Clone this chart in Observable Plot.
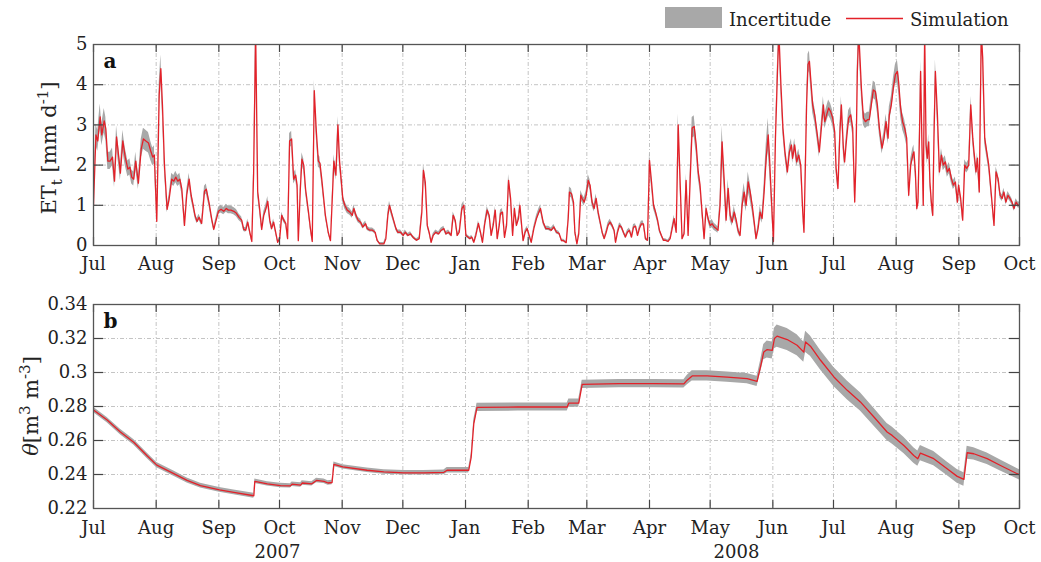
<!DOCTYPE html>
<html><head><meta charset="utf-8">
<script src="https://cdn.jsdelivr.net/npm/d3@7"></script>
<script src="https://cdn.jsdelivr.net/npm/@observablehq/plot@0.6"></script>
<style>
body{margin:0;background:#fff;}
#wrap{position:relative;width:1041px;height:562px;font-family:"DejaVu Serif",serif;overflow:hidden;}
#a{position:absolute;left:0;top:0;}
#b{position:absolute;left:0;top:285px;}
#legend{position:absolute;left:0;top:0;}
</style></head>
<body><div id="wrap"><div id="a"></div><div id="b"></div><svg id="legend" width="1041" height="40"></svg></div>
<script>
// ---- data: ET_t (mm/d), day offsets from 2007-07-01 ----
const etDay = [0,1.2,2.1,3.3,4.1,5.3,6.1,7.1,8.2,9.4,10.4,11.4,12.4,13.3,14.5,15.7,17,18,18.9,19.9,20.9,22.2,23.6,24.7,25.9,27.2,28.3,29.3,30.1,31.3,32.5,33.3,34.1,35.1,36.4,37.4,38.7,39.7,40.7,41.7,42.7,43.7,45,46.1,47.3,48.3,49.3,50.2,51.2,52.2,53.5,54.9,55.8,57.2,58.5,59.5,60.5,61.8,63.1,64.4,65.7,66.7,68,69.4,70.7,72,73.3,74.3,75.3,76.3,77.3,78.3,79.2,80.2,81.2,82.2,83.2,84.2,85.2,86.2,87.2,88.1,89.1,90.1,91.1,92.1,93.1,94.1,95.1,96,97,98,99,100,100.7,101.3,102.3,103.1,104,104.9,106.3,107.3,108.2,109.2,110.2,111.2,112,112.9,113.9,114.7,116.1,117.2,118.9,119.9,120.9,121.7,122.5,123.3,124.3,125.5,126.8,128,128.8,129.8,130.9,132.1,133.2,134.6,135.4,136.7,138,139.3,140.3,141.6,143.6,144.6,145.6,146.4,147.3,148.2,149.6,150.5,151.9,153.2,154.2,155.5,156.8,158.1,159.8,161.1,162.4,163.2,164.1,165.1,166,167,168,169.3,170.7,172,173.3,174.3,175.6,176.9,177.9,178.9,179.9,180.9,182.2,183.2,184.2,185.2,186.2,187.1,188.1,189.1,190.4,191.4,192.4,193.4,194.7,195.7,196.7,197.7,198.7,199.7,200.7,201.3,202.3,203.3,204.3,205.3,206.3,207.3,208.2,209.2,210.2,210.9,211.9,212.5,213.5,214.5,215.5,216.5,217.8,219.1,220.3,221.1,222.4,223.7,225.1,226.4,227.7,229,230.3,231.5,232.5,233.8,234.8,235.4,236.4,237.4,238.1,239.1,240,241,241.7,242.7,243.7,244.7,245.6,246.6,247.6,248.6,249.6,250.6,251.6,252.6,253.6,254.5,255.5,256.5,257.5,258.2,259.2,260.2,261.1,262.1,263.1,264.1,265.1,266.1,267.1,268.1,269.1,270,271,272,273,274,275,276,277,278,279,279.9,280.9,281.9,282.9,284.2,285.2,286.2,287.2,288.2,289.2,290.2,291.1,292.1,293.1,294.1,295.1,296.1,297.1,298.1,299.1,300,301,302,303,304,305,306,307,308,308.9,309.9,310.9,311.9,312.9,313.9,314.9,315.9,316.9,317.9,318.8,319.8,320.8,321.8,322.8,323.8,324.8,325.8,326.8,327.7,328.7,329.7,330.7,331.7,332.7,333.7,334.3,335.3,336.3,337.3,338.3,339,340,341,342,343.2,344.2,345.2,345.8,346.8,347.8,348.8,349.8,350.8,351.4,352.1,352.7,353.4,354.1,354.7,355.7,356.7,358,359,360,361,361.7,362.6,363.6,364.6,365.6,366.6,367.3,368.2,369.2,369.9,370.9,371.5,372.5,373.5,374.5,375.5,376.5,377.1,377.8,378.5,379.1,379.8,380.8,381.8,382.8,383.7,384.7,385.7,386.7,387.7,388.7,390,391,392,393,393.6,394.6,395.6,396.6,397.6,398.2,399.2,400.2,401.2,402.2,403.2,404.2,405.2,405.8,406.5,407.2,407.8,408.5,409.1,409.8,410.4,411.1,411.8,412.4,413.1,413.7,414.4,415.1,415.7,416.4,417.4,418.4,419.4,420.3,421.3,422.3,423.3,424.3,425.3,426.3,427.3,427.9,428.9,429.9,430.9,431.9,432.9,433.9,434.9,435.5,436.5,437.2,438.1,439.1,439.8,440.8,441.8,442.8,444.1,445.4,446.4,447.4,448.4,449.4,450.3,451.3,452.3,453.3,454.3,455.3,456.3,457.3,458];
const etValue = [1.0,2.75,2.6,3.2,2.75,3.1,2.9,2.1,2.1,2.2,1.6,2.7,2.25,1.8,2.6,2.2,1.9,1.95,1.7,1.65,2.1,1.55,2.4,2.65,2.6,2.55,2.35,2.2,2.25,0.6,3.75,4.4,3.5,2.0,0.9,1.15,1.65,1.6,1.7,1.6,1.65,1.4,0.5,1.25,1.65,1.25,1.0,0.75,0.6,0.7,0.55,1.35,1.4,1.05,0.65,0.4,0.6,0.85,0.9,0.85,0.92,0.88,0.88,0.85,0.8,0.7,0.63,0.4,0.38,0.58,0.33,0.1,1.8,5.3,1.35,0.9,0.4,0.75,0.9,1.1,0.63,0.42,0.58,0.33,0.08,0.17,0.75,0.63,0.55,0.17,2.6,2.65,1.65,1.75,1.5,0.12,1.4,2.15,2.0,1.4,0.85,0.42,0.1,3.85,2.85,2.1,2.05,1.65,1.15,0.75,0.33,0.12,2.1,1.75,3.0,2.1,1.65,1.17,1.0,0.88,0.83,0.75,0.92,0.75,0.63,0.58,0.46,0.54,0.42,0.38,0.38,0.33,0.13,0.04,0.04,0.17,0.75,1.0,0.83,0.67,0.42,0.33,0.33,0.25,0.33,0.25,0.29,0.2,0.13,0.17,0.83,1.87,1.58,0.5,0.33,0.08,0.25,0.33,0.29,0.38,0.42,0.29,0.33,0.25,0.75,0.63,0.25,0.33,0.92,1.0,0.25,0.21,0.17,0.21,0.08,0.25,0.55,0.33,0.08,0.5,0.88,0.75,0.25,0.5,0.88,0.17,0.5,0.8,0.83,0.2,0.5,1.62,1.17,0.25,0.92,0.5,0.67,1.0,0.42,0.12,0.33,0.42,0.25,0.08,0.42,0.67,0.83,0.92,0.58,0.42,0.42,0.38,0.46,0.33,0.3,0.12,0.12,0.07,0.67,1.33,1.29,1.08,0.33,0.04,0.29,1.25,1.17,1.08,1.25,1.62,1.5,1.08,0.92,1.17,0.83,0.58,0.33,0.17,0.33,0.5,0.58,0.5,0.38,0.08,0.33,0.5,0.46,0.33,0.21,0.33,0.38,0.21,0.46,0.48,0.25,0.42,0.54,0.54,0.17,0.13,2.12,1.58,1.0,0.83,0.63,0.38,0.25,0.13,0.13,0.1,0.17,0.42,0.67,0.33,3.0,1.5,0.17,0.29,1.62,0.25,1.62,2.92,2.96,2.5,1.83,1.5,0.83,0.17,0.92,0.67,0.5,0.54,0.46,0.42,0.38,1.0,2.58,1.67,0.63,1.42,0.75,0.58,0.83,0.63,0.38,0.25,1.0,1.33,1.0,1.58,1.33,1.0,0.58,0.17,0.42,0.83,0.67,1.33,2.17,2.75,2.25,1.17,0.1,2.67,4.33,5.3,4.0,2.92,2.33,1.83,2.33,2.5,2.17,2.5,2.08,2.25,2.0,0.83,0.33,2.0,3.5,4.5,4.58,4.17,3.5,3.25,2.75,2.33,2.92,3.5,3.08,3.25,3.42,3.33,3.17,2.83,1.92,1.42,2.83,3.5,2.42,2.08,2.67,3.17,3.25,2.92,1.08,2.08,4.33,5.3,4.67,3.92,3.17,3.08,3.13,3.13,3.5,3.87,3.83,3.5,2.92,2.42,2.67,3.08,2.67,3.25,3.5,3.92,4.25,4.33,4.08,3.42,3.08,2.92,2.67,1.25,2.0,2.25,2.33,1.83,0.92,1.08,2.67,4.33,2.42,1.0,5.3,2.5,2.17,2.58,1.58,1.08,0.75,2.67,4.33,3.25,1.83,2.25,2.0,2.08,1.83,1.92,1.67,1.5,1.58,1.08,1.5,1.17,0.63,2.0,1.92,2.0,3.5,2.67,2.33,1.83,2.17,1.33,5.3,4.67,2.67,2.33,2.0,1.25,0.5,1.83,1.67,1.25,1.17,1.33,1.08,1.25,1.17,1.08,0.92,1.08,1.0,1.0];
// relative half-width of the uncertainty band per month (Jul 2007 .. Oct 2008)
const etSpread = [0.09,0.07,0.08,0.06,0.07,0.07,0.07,0.07,0.07,0.08,0.14,0.05,0.05,0.06,0.05,0.05];

// ---- data: soil moisture theta (m3/m3) ----
const thetaDay = [0,6.75,13.3,19.9,26.5,31.3,39.7,46.3,52.9,62.3,69.4,79.3,79.8,86,92.5,97.4,98.2,102.5,103.2,108,110.3,114,116,118,118.9,123.3,135.3,143.6,153.5,163.4,173.3,174.9,185.6,186.8,188.1,189.7,210,234.3,235.1,240,241.7,260,277.1,292,293.6,296.1,303.5,313.4,323.3,328.2,329.9,331.5,333.2,335.7,336.8,338.1,343.1,348,351.3,352.2,354.6,359.6,366.2,372.8,379.3,386,392.5,395,400.8,405.7,407.7,409,415.6,422.2,427.2,430.5,432.1,435.4,442,448.6,458];
const thetaValue = [0.278,0.272,0.265,0.259,0.251,0.2455,0.2405,0.2365,0.2335,0.231,0.2295,0.2275,0.236,0.2345,0.2335,0.2333,0.2343,0.2338,0.235,0.2345,0.2365,0.236,0.235,0.2353,0.246,0.2445,0.2425,0.2415,0.241,0.241,0.2413,0.2425,0.2425,0.25,0.27,0.2795,0.2797,0.2797,0.282,0.282,0.293,0.2935,0.2935,0.2933,0.2955,0.298,0.298,0.2973,0.2964,0.2948,0.3033,0.312,0.3135,0.313,0.32,0.3214,0.3194,0.316,0.312,0.318,0.3155,0.3072,0.2974,0.2895,0.2827,0.2738,0.265,0.263,0.2571,0.2512,0.2493,0.2526,0.2493,0.2434,0.2389,0.2371,0.2528,0.2522,0.2493,0.2453,0.2398];
const thetaSpread = [0.0016,0.0016,0.0016,0.0016,0.0016,0.0016,0.0015,0.0015,0.0014,0.0014,0.0014,0.0014,0.0013,0.0013,0.0013,0.0013,0.0013,0.0013,0.0013,0.0013,0.0013,0.0013,0.0013,0.0013,0.0013,0.0013,0.0013,0.0013,0.0013,0.0013,0.0014,0.0016,0.0016,0.002,0.0023,0.0024,0.0024,0.0024,0.0024,0.0024,0.0024,0.0024,0.0024,0.0024,0.0028,0.003,0.003,0.003,0.003,0.003,0.0035,0.0045,0.005,0.005,0.006,0.0065,0.0065,0.0062,0.006,0.0062,0.006,0.0058,0.0056,0.0055,0.0054,0.0052,0.005,0.005,0.0048,0.0046,0.0045,0.0045,0.0042,0.004,0.004,0.004,0.0038,0.0036,0.0034,0.0032,0.003];

const monthLabel = d3.utcFormat("%b");
const yearLabels = ["2007","2008"];
const yearDay = [91, 318];
const etTicks = [0,1,2,3,4,5];
const thetaTicks = [0.22,0.24,0.26,0.28,0.30,0.32,0.34];

// ---- helpers ----
const start = new Date(Date.UTC(2007,6,1));
const end = new Date(Date.UTC(2008,9,1));
const toDate = d => new Date(start.getTime() + d*864e5);
const monthTicks = d3.utcMonth.range(start, new Date(Date.UTC(2008,9,2)));
const RED = "#e32129", GREY = "#a8a8a8", FONT = "DejaVu Serif";
const GRID = {stroke: "#bdbdbd", strokeWidth: 0.9, strokeDasharray: "4,2,1,2"};

const et = etDay.map((d,i)=>{
  const date = toDate(d), v = etValue[i];
  const s = etSpread[Math.min(etSpread.length-1, d3.utcMonth.count(start,date))];
  return {date, v, lo: Math.max(0, v*(1-s)-0.02), hi: v*(1+s)+0.03};
});
const th = thetaDay.map((d,i)=>({date: toDate(d), v: thetaValue[i], lo: thetaValue[i]-thetaSpread[i], hi: thetaValue[i]+thetaSpread[i]}));

function panel({data, yDomain, yTicks, yFmt, height, mTop, mBottom, letter, pad, extra=[]}) {
  const plotH = height - mTop - mBottom;
  const ty = (yDomain[1]-yDomain[0]) * 8/plotH;       // 8px inward x-ticks
  const tx = 458 * 10/926;                             // 10px inward y-ticks (days)
  const inner = yTicks.slice(1,-1);
  return Plot.plot({
    width: 1041, height, marginTop: mTop, marginBottom: mBottom, marginLeft: 93, marginRight: 22,
    style: {fontFamily: FONT, fontSize: "18px", color: "#222", background: "transparent", overflow: "visible"},
    x: {type: "utc", domain: [start, end], ticks: monthTicks, tickFormat: monthLabel, tickSize: 0, tickPadding: pad, label: null},
    y: {domain: yDomain, ticks: yTicks, tickFormat: yFmt, tickSize: 0, tickPadding: 6, label: null},
    marks: [
      Plot.ruleX(monthTicks.slice(1,-1), GRID),
      Plot.ruleY(inner, GRID),
      Plot.areaY(data, {x: "date", y1: "lo", y2: "hi", fill: GREY, clip: true}),
      Plot.lineY(data, {x: "date", y: "v", stroke: RED, strokeWidth: 1.3, clip: true}),
      Plot.ruleX(monthTicks, {y1: yDomain[0], y2: yDomain[0]+ty, stroke: "#444", strokeWidth: 1.2}),
      Plot.ruleX(monthTicks, {y1: yDomain[1], y2: yDomain[1]-ty, stroke: "#444", strokeWidth: 1.2}),
      Plot.ruleY(inner, {x1: start, x2: toDate(tx), stroke: "#444", strokeWidth: 1.2}),
      Plot.ruleY(inner, {x1: toDate(458-tx), x2: end, stroke: "#444", strokeWidth: 1.2}),
      Plot.frame({stroke: "#555", strokeWidth: 1.3}),
      Plot.text([letter], {frameAnchor: "top-left", dx: 10, dy: 17, lineAnchor: "middle", fontWeight: "bold", fontSize: 20, fill: "#111"}),
      ...extra
    ]
  });
}

const plotA = panel({data: et, yDomain: [0,5], yTicks: etTicks, yFmt: d3.format("d"), height: 285, mTop: 44, mBottom: 40, letter: "a", pad: 12});
const years = yearLabels.map((t,i)=>({t, date: toDate(yearDay[i])}));
const plotB = panel({data: th, yDomain: [0.22,0.34], yTicks: thetaTicks, yFmt: d3.format(".2~f"), height: 277, mTop: 19, mBottom: 54, letter: "b", pad: 13,
  extra: [Plot.text(years, {x: "date", y: () => 0.22, text: "t", dy: 44, fontSize: 18, fill: "#222"})]});

document.getElementById("a").appendChild(plotA);
document.getElementById("b").appendChild(plotB);

function yLabel(svg, x, y, parts) {
  const t = d3.select(svg).append("text")
    .attr("transform", `translate(${x},${y}) rotate(-90)`)
    .attr("text-anchor", "middle").attr("font-size", 21).attr("fill", "#222");
  parts.forEach(p => {
    const s = t.append("tspan").text(p.t);
    if (p.dy) s.attr("dy", p.dy);
    if (p.fs) s.attr("font-size", p.fs);
    if (p.it) s.attr("font-style", "italic");
  });
}
yLabel(plotA, 56, 148, [{t:"ET"},{t:"t",dy:6,fs:15},{t:" [mm d",dy:-6},{t:"-1",dy:-8,fs:15},{t:"]",dy:8}]);
yLabel(plotB, 38, 121, [{t:"θ",it:true},{t:"[m"},{t:"3",dy:-8,fs:15},{t:" m",dy:8},{t:"-3",dy:-8,fs:15},{t:"]",dy:8}]);

// legend
const lg = d3.select("#legend").attr("font-family", FONT).attr("font-size", 18).attr("fill", "#222");
lg.append("rect").attr("x",665).attr("y",7).attr("width",57).attr("height",21).attr("fill",GREY);
lg.append("text").attr("x",729).attr("y",26).text("Incertitude");
lg.append("line").attr("x1",846).attr("x2",903).attr("y1",18.5).attr("y2",18.5).attr("stroke",RED).attr("stroke-width",1.3);
lg.append("text").attr("x",910).attr("y",26).text("Simulation");
</script></body></html>
